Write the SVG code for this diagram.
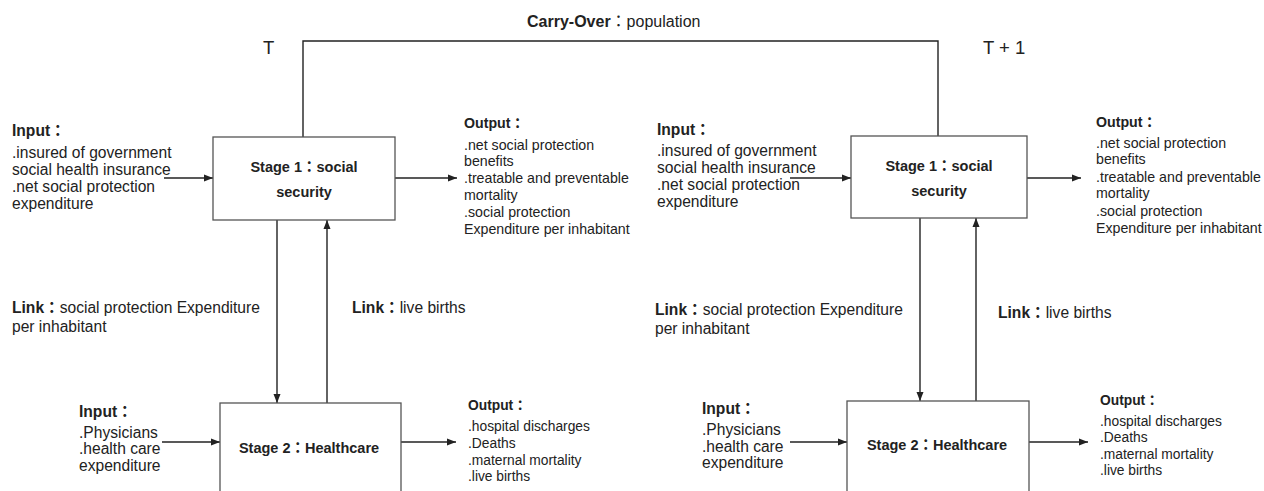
<svg xmlns="http://www.w3.org/2000/svg" width="1264" height="491" viewBox="0 0 1264 491">
<style>
text{font-family:"Liberation Sans","Noto Sans CJK TC",sans-serif;fill:#222}
.in{font-size:15.6px}
.out{font-size:14.2px}
.out2{font-size:13.8px}
.b{font-weight:bold}
.st{font-size:14.5px;font-weight:bold;text-anchor:middle}
.tl{font-size:18.5px}
.box{fill:#fff;stroke:#555;stroke-width:1.3}
.c{fill:none;stroke:#222;stroke-width:1.4}
.a{marker-end:url(#ah)}
</style>
<defs>
<marker id="ah" markerUnits="userSpaceOnUse" markerWidth="9" markerHeight="8" refX="9" refY="4" orient="auto">
<path d="M0,0.5 L9,4 L0,7.5 z" fill="#222"/>
</marker>
</defs>
<rect width="1264" height="491" fill="#fff"/>
<g id="connectors">
<path class="c" d="M303,137 V41 H938 V136"/>
<line class="c a" x1="164" y1="178" x2="213" y2="178"/>
<line class="c a" x1="395" y1="178" x2="457" y2="178"/>
<line class="c a" x1="790" y1="178" x2="851" y2="178"/>
<line class="c a" x1="1027" y1="178" x2="1081" y2="178"/>
<line class="c a" x1="277" y1="220" x2="277" y2="403"/>
<line class="c a" x1="327" y1="403" x2="327" y2="220"/>
<line class="c a" x1="920" y1="218" x2="920" y2="401"/>
<line class="c a" x1="976" y1="401" x2="976" y2="218"/>
<line class="c a" x1="162" y1="442" x2="220" y2="442"/>
<line class="c a" x1="401" y1="442" x2="456" y2="442"/>
<line class="c a" x1="790" y1="442" x2="847" y2="442"/>
<line class="c a" x1="1029" y1="442" x2="1088" y2="442"/>
</g>
<g id="labels">
<text x="527" y="27" style="font-size:16px"><tspan class="b">Carry-Over</tspan>：population</text>
<text class="tl" x="263" y="54">T</text>
<text class="tl" x="983" y="54">T + 1</text>
</g>
<g id="stage1-T">
<rect class="box" x="213" y="137" width="182" height="83"/>
<text class="st" x="304" y="172">Stage 1：social</text>
<text class="st" x="304" y="197">security</text>
</g>
<g id="stage2-T">
<rect class="box" x="220" y="403" width="181" height="100"/>
<text class="st" x="309" y="453">Stage 2：Healthcare</text>
</g>
<g id="stage1-T1">
<rect class="box" x="851" y="136" width="176" height="82"/>
<text class="st" x="939" y="171">Stage 1：social</text>
<text class="st" x="939" y="196">security</text>
</g>
<g id="stage2-T1">
<rect class="box" x="847" y="401" width="182" height="100"/>
<text class="st" x="937" y="450">Stage 2：Healthcare</text>
</g>
<g id="input1-T">
<text class="in b" x="12" y="136">Input：</text>
<text class="in"><tspan x="12" y="158">.insured of government</tspan><tspan x="12" y="175">social health insurance</tspan><tspan x="12" y="192">.net social protection</tspan><tspan x="12" y="209">expenditure</tspan></text>
</g>
<g id="output1-T">
<text class="out b" x="464" y="128">Output：</text>
<text class="out"><tspan x="464" y="150">.net social protection</tspan><tspan x="464" y="166">benefits</tspan><tspan x="464" y="183">.treatable and preventable</tspan><tspan x="464" y="200">mortality</tspan><tspan x="464" y="217">.social protection</tspan><tspan x="464" y="234">Expenditure  per inhabitant</tspan></text>
</g>
<g id="input1-T1">
<text class="in b" x="657" y="135">Input：</text>
<text class="in"><tspan x="657" y="156">.insured of government</tspan><tspan x="657" y="173">social health insurance</tspan><tspan x="657" y="190">.net social protection</tspan><tspan x="657" y="207">expenditure</tspan></text>
</g>
<g id="output1-T1">
<text class="out b" x="1096" y="127">Output：</text>
<text class="out"><tspan x="1096" y="148">.net social protection</tspan><tspan x="1096" y="164">benefits</tspan><tspan x="1096" y="182">.treatable and preventable</tspan><tspan x="1096" y="198">mortality</tspan><tspan x="1096" y="216">.social protection</tspan><tspan x="1096" y="233">Expenditure  per inhabitant</tspan></text>
</g>
<g id="link-T">
<text class="in"><tspan x="12" y="313"><tspan class="b">Link：</tspan>social protection Expenditure</tspan><tspan x="12" y="332">per inhabitant</tspan></text>
<text class="in" x="352" y="313"><tspan class="b">Link：</tspan>live births</text>
</g>
<g id="link-T1">
<text class="in"><tspan x="655" y="315"><tspan class="b">Link：</tspan>social protection Expenditure</tspan><tspan x="655" y="334">per inhabitant</tspan></text>
<text class="in" x="998" y="318"><tspan class="b">Link：</tspan>live births</text>
</g>
<g id="input2-T">
<text class="in b" x="79" y="417">Input：</text>
<text class="in"><tspan x="79" y="438">.Physicians</tspan><tspan x="79" y="454">.health care</tspan><tspan x="79" y="471">expenditure</tspan></text>
</g>
<g id="output2-T">
<text class="out2 b" x="468" y="410">Output：</text>
<text class="out2"><tspan x="468" y="431">.hospital discharges</tspan><tspan x="468" y="448">.Deaths</tspan><tspan x="468" y="465">.maternal mortality</tspan><tspan x="468" y="481">.live births</tspan></text>
</g>
<g id="input2-T1">
<text class="in b" x="702" y="414">Input：</text>
<text class="in"><tspan x="702" y="435">.Physicians</tspan><tspan x="702" y="452">.health care</tspan><tspan x="702" y="468">expenditure</tspan></text>
</g>
<g id="output2-T1">
<text class="out2 b" x="1100" y="405">Output：</text>
<text class="out2"><tspan x="1100" y="426">.hospital discharges</tspan><tspan x="1100" y="442">.Deaths</tspan><tspan x="1100" y="459">.maternal mortality</tspan><tspan x="1100" y="475">.live births</tspan></text>
</g>
</svg>
